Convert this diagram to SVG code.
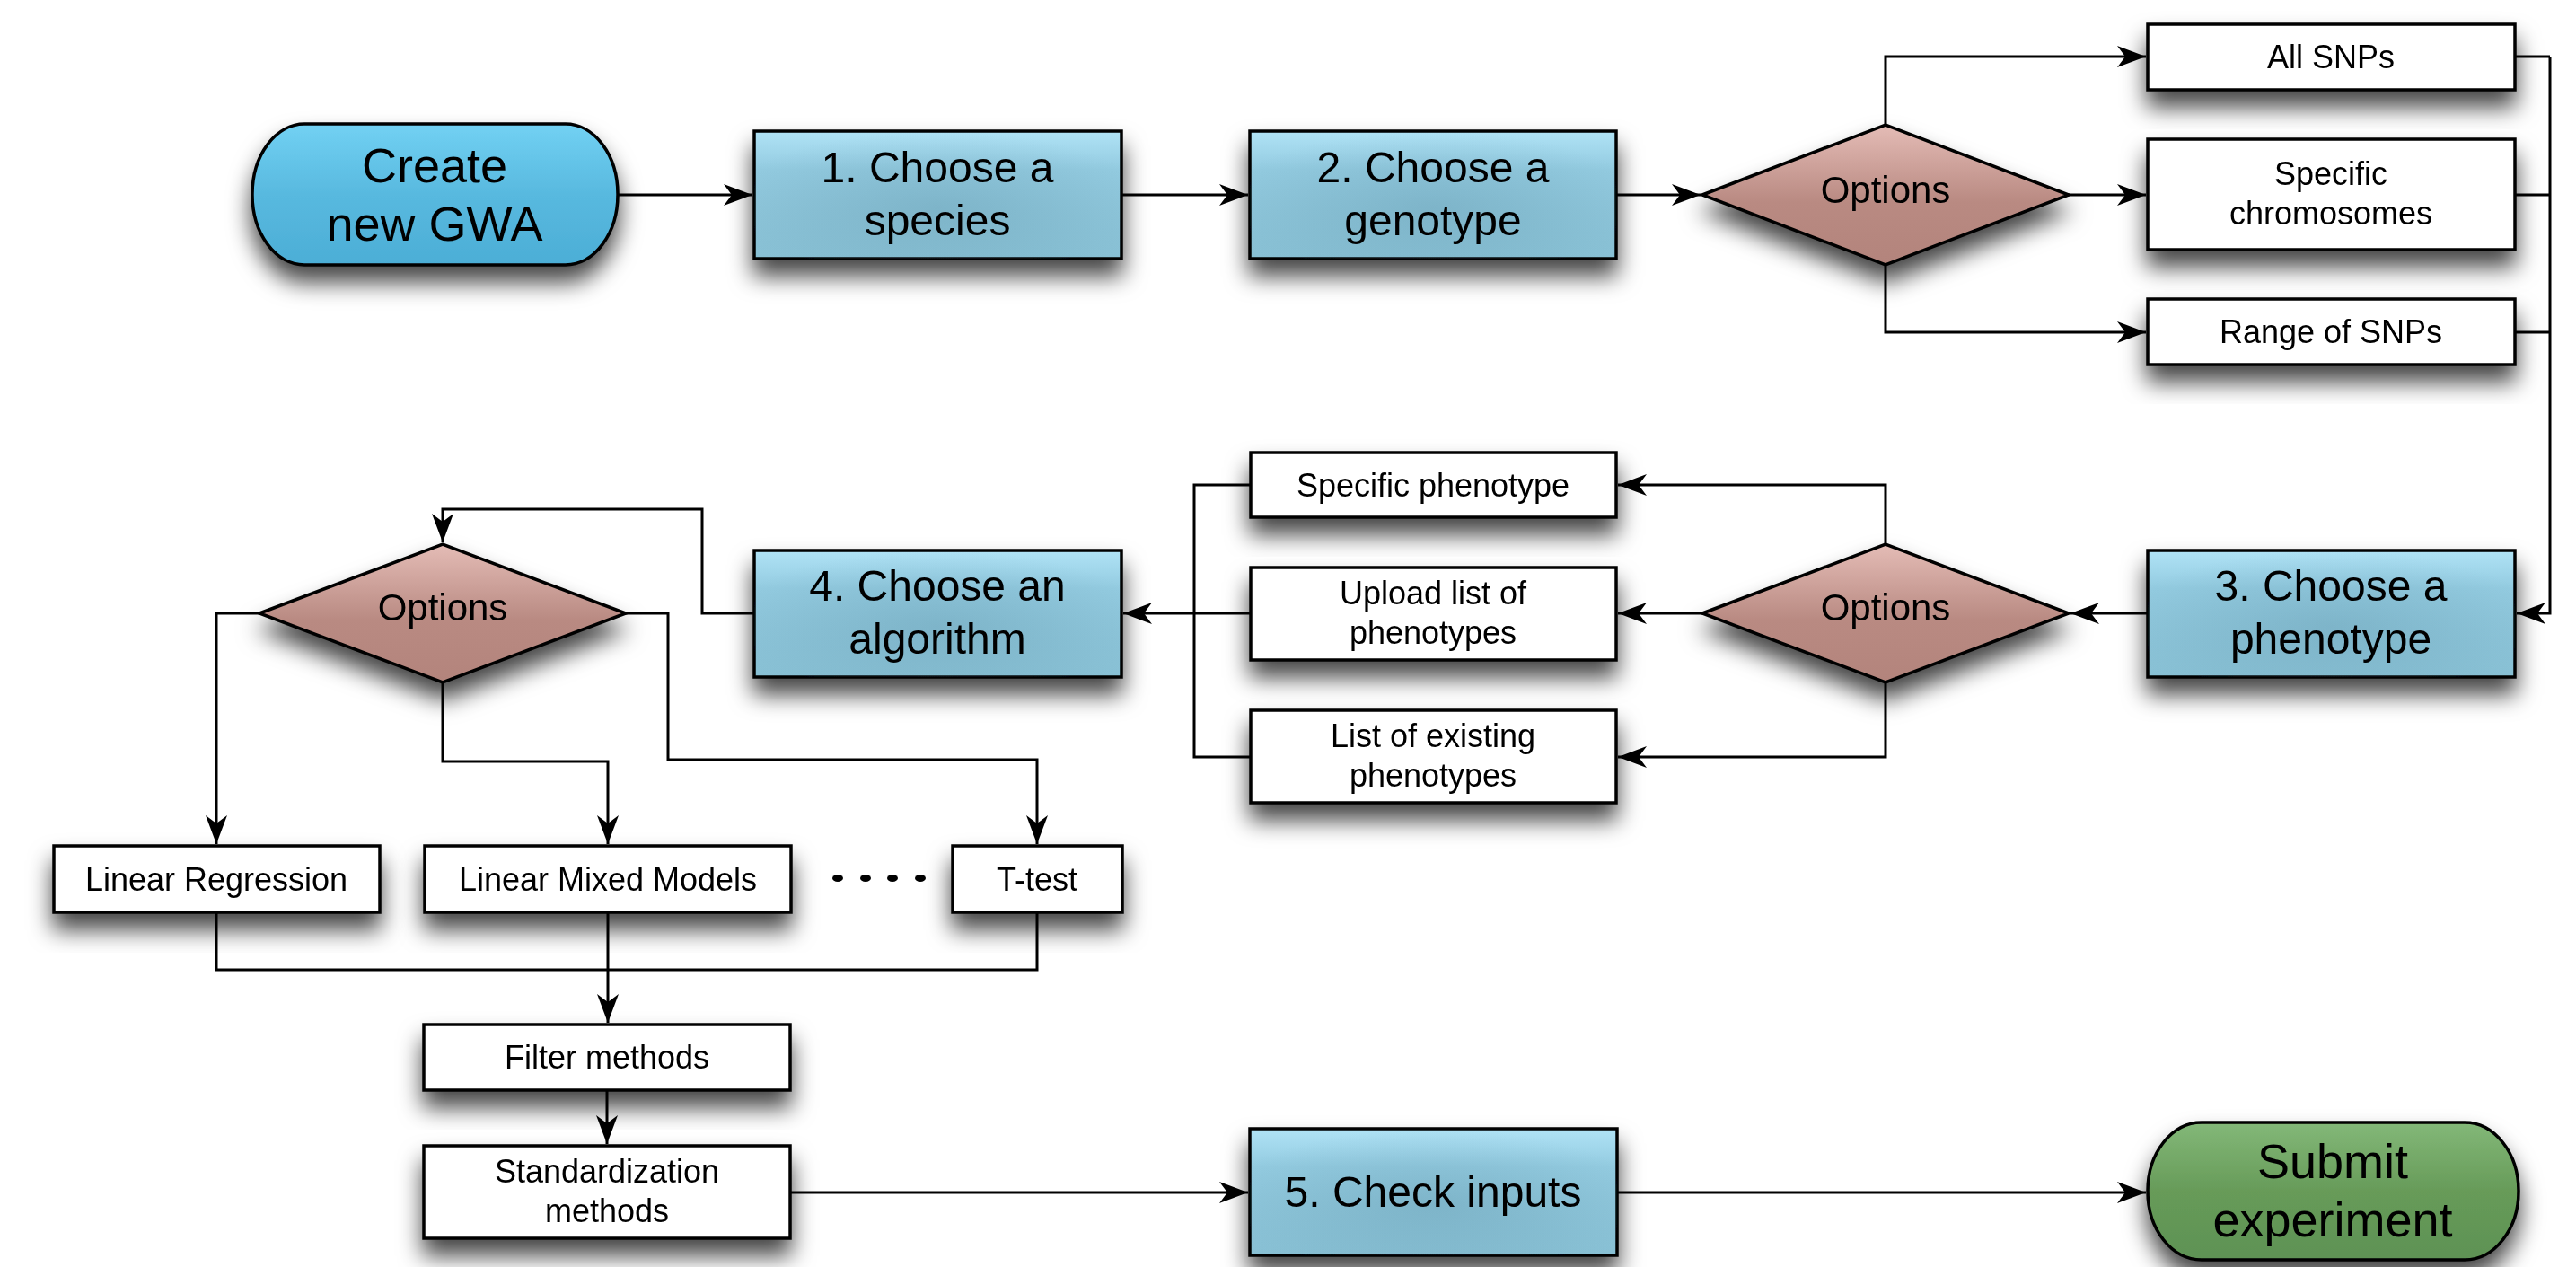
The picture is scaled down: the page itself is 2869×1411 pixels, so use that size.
<svg xmlns="http://www.w3.org/2000/svg" width="2869" height="1411" viewBox="0 0 2869 1411">
<defs>
  <filter id="shadow" x="-20%" y="-30%" width="140%" height="190%">
    <feDropShadow dx="0" dy="18" stdDeviation="13" flood-color="#000" flood-opacity="0.72"/>
  </filter>
  <linearGradient id="gBlue" x1="0" y1="0" x2="0" y2="1">
    <stop offset="0" stop-color="#b0e3f6"/>
    <stop offset="0.3" stop-color="#93cbe0"/>
    <stop offset="1" stop-color="#88c0d4"/>
  </linearGradient>
  <radialGradient id="gBlueShade" cx="0.5" cy="0.6" r="0.6">
    <stop offset="0" stop-color="#5f93a8" stop-opacity="0.35"/>
    <stop offset="1" stop-color="#5f93a8" stop-opacity="0"/>
  </radialGradient>
  <linearGradient id="gPill" x1="0" y1="0" x2="0" y2="1">
    <stop offset="0" stop-color="#72d1f3"/>
    <stop offset="0.5" stop-color="#58b9df"/>
    <stop offset="1" stop-color="#4caed6"/>
  </linearGradient>
  <linearGradient id="gDiamond" x1="0" y1="0" x2="0" y2="1">
    <stop offset="0" stop-color="#e4bcb6"/>
    <stop offset="0.55" stop-color="#b98a82"/>
    <stop offset="1" stop-color="#b3847c"/>
  </linearGradient>
  <linearGradient id="gGreen" x1="0" y1="0" x2="0" y2="1">
    <stop offset="0" stop-color="#83b878"/>
    <stop offset="0.5" stop-color="#679b59"/>
    <stop offset="1" stop-color="#5e9254"/>
  </linearGradient>
  <marker id="arrow" viewBox="-34 -14 36 28" refX="0" refY="0" markerWidth="36" markerHeight="28" markerUnits="userSpaceOnUse" orient="auto">
    <path d="M0,0 L-32,-12 L-23,0 L-32,12 Z" fill="#000"/>
  </marker>
  <style>
    .step { fill: url(#gBlue); stroke: #000; stroke-width: 3.5; }
    .shade { fill: url(#gBlueShade); stroke: none; }
    .opt { fill: url(#gDiamond); stroke: #000; stroke-width: 3.5; stroke-linejoin: miter; }
    .box { fill: #fff; stroke: #000; stroke-width: 3.5; }
    .pill { fill: url(#gPill); stroke: #000; stroke-width: 3.5; }
    .green { fill: url(#gGreen); stroke: #000; stroke-width: 3.5; }
    .node { filter: url(#shadow); }
    text { font-family: "Liberation Sans", Arial, sans-serif; fill: #000; text-anchor: middle; }
    .tBig { font-size: 54px; }
    .tStep { font-size: 48px; }
    .tOpt { font-size: 42px; }
    .tBox { font-size: 36px; }
    .conn { fill: none; stroke: #000; stroke-width: 3; }
    .arr { marker-end: url(#arrow); }
  </style>
</defs>
<rect width="2869" height="1411" fill="#fff"/>

<!-- nodes -->
<g id="create" class="node">
  <rect class="pill" x="281" y="138" width="407" height="157" rx="58" ry="78"/>
  <text class="tBig" x="484" y="203">Create</text>
  <text class="tBig" x="484" y="268">new GWA</text>
</g>
<g id="step1" class="node">
  <rect class="step" x="840" y="146" width="409" height="142"/>
  <rect class="shade" x="840" y="146" width="409" height="142"/>
  <text class="tStep" x="1044" y="203">1. Choose a</text>
  <text class="tStep" x="1044" y="262">species</text>
</g>
<g id="step2" class="node">
  <rect class="step" x="1392" y="146" width="408" height="142"/>
  <rect class="shade" x="1392" y="146" width="408" height="142"/>
  <text class="tStep" x="1596" y="203">2. Choose a</text>
  <text class="tStep" x="1596" y="262">genotype</text>
</g>
<g id="options1" class="node">
  <polygon class="opt" points="1896,217 2100,139 2304,217 2100,295"/>
  <text class="tOpt" x="2100" y="226">Options</text>
</g>
<g id="allsnps" class="node">
  <rect class="box" x="2392" y="27" width="409" height="73"/>
  <text class="tBox" x="2596" y="76">All SNPs</text>
</g>
<g id="chromosomes" class="node">
  <rect class="box" x="2392" y="155" width="409" height="123"/>
  <text class="tBox" x="2596" y="206">Specific</text>
  <text class="tBox" x="2596" y="250">chromosomes</text>
</g>
<g id="rangesnps" class="node">
  <rect class="box" x="2392" y="333" width="409" height="73"/>
  <text class="tBox" x="2596" y="382">Range of SNPs</text>
</g>
<g id="step3" class="node">
  <rect class="step" x="2392" y="613" width="409" height="141"/>
  <rect class="shade" x="2392" y="613" width="409" height="141"/>
  <text class="tStep" x="2596" y="669">3. Choose a</text>
  <text class="tStep" x="2596" y="728">phenotype</text>
</g>
<g id="options2" class="node">
  <polygon class="opt" points="1896,683 2100,606 2304,683 2100,760"/>
  <text class="tOpt" x="2100" y="691">Options</text>
</g>
<g id="specpheno" class="node">
  <rect class="box" x="1393" y="504" width="407" height="72"/>
  <text class="tBox" x="1596" y="553">Specific phenotype</text>
</g>
<g id="uploadpheno" class="node">
  <rect class="box" x="1393" y="632" width="407" height="103"/>
  <text class="tBox" x="1596" y="673">Upload list of</text>
  <text class="tBox" x="1596" y="717">phenotypes</text>
</g>
<g id="existpheno" class="node">
  <rect class="box" x="1393" y="791" width="407" height="103"/>
  <text class="tBox" x="1596" y="832">List of existing</text>
  <text class="tBox" x="1596" y="876">phenotypes</text>
</g>
<g id="step4" class="node">
  <rect class="step" x="840" y="613" width="409" height="141"/>
  <rect class="shade" x="840" y="613" width="409" height="141"/>
  <text class="tStep" x="1044" y="669">4. Choose an</text>
  <text class="tStep" x="1044" y="728">algorithm</text>
</g>
<g id="options3" class="node">
  <polygon class="opt" points="289,683 493,606 697,683 493,760"/>
  <text class="tOpt" x="493" y="691">Options</text>
</g>
<g id="linreg" class="node">
  <rect class="box" x="60" y="942" width="363" height="74"/>
  <text class="tBox" x="241" y="992">Linear Regression</text>
</g>
<g id="lmm" class="node">
  <rect class="box" x="473" y="942" width="408" height="74"/>
  <text class="tBox" x="677" y="992">Linear Mixed Models</text>
</g>
<g id="ttest" class="node">
  <rect class="box" x="1061" y="942" width="189" height="74"/>
  <text class="tBox" x="1155" y="992">T-test</text>
</g>
<g id="filter" class="node">
  <rect class="box" x="472" y="1141" width="408" height="73"/>
  <text class="tBox" x="676" y="1190">Filter methods</text>
</g>
<g id="standard" class="node">
  <rect class="box" x="472" y="1276" width="408" height="103"/>
  <text class="tBox" x="676" y="1317">Standardization</text>
  <text class="tBox" x="676" y="1361">methods</text>
</g>
<g id="step5" class="node">
  <rect class="step" x="1392" y="1257" width="409" height="141"/>
  <rect class="shade" x="1392" y="1257" width="409" height="141"/>
  <text class="tStep" x="1596" y="1344">5. Check inputs</text>
</g>
<g id="submit" class="node">
  <rect class="green" x="2392" y="1250" width="413" height="153" rx="60" ry="76"/>
  <text class="tBig" x="2598" y="1312">Submit</text>
  <text class="tBig" x="2598" y="1377">experiment</text>
</g>

<!-- connectors -->
<g id="connectors">
  <path class="conn arr" d="M688,217 L838,217"/>
  <path class="conn arr" d="M1249,217 L1390,217"/>
  <path class="conn arr" d="M1800,217 L1894,217"/>
  <path class="conn arr" d="M2100,139 L2100,63 L2390,63"/>
  <path class="conn arr" d="M2304,217 L2390,217"/>
  <path class="conn arr" d="M2100,295 L2100,370 L2390,370"/>
  <path class="conn" d="M2801,63 L2840,63 M2801,217 L2840,217 M2801,370 L2840,370"/>
  <path class="conn arr" d="M2840,63 L2840,683 L2803,683"/>
  <path class="conn arr" d="M2392,683 L2306,683"/>
  <path class="conn arr" d="M2100,606 L2100,540 L1802,540"/>
  <path class="conn arr" d="M1896,683 L1802,683"/>
  <path class="conn arr" d="M2100,760 L2100,843 L1802,843"/>
  <path class="conn" d="M1393,540 L1330,540 L1330,843 L1393,843"/>
  <path class="conn arr" d="M1393,683 L1251,683"/>
  <path class="conn arr" d="M840,683 L782,683 L782,567 L493,567 L493,604"/>
  <path class="conn arr" d="M289,683 L241,683 L241,940"/>
  <path class="conn arr" d="M493,760 L493,848 L677,848 L677,940"/>
  <path class="conn arr" d="M697,683 L744,683 L744,846 L1155,846 L1155,940"/>
  <path class="conn" d="M241,1016 L241,1080 L1155,1080 L1155,1016"/>
  <path class="conn arr" d="M677,1016 L677,1139"/>
  <path class="conn arr" d="M676,1214 L676,1274"/>
  <path class="conn arr" d="M880,1328 L1390,1328"/>
  <path class="conn arr" d="M1801,1328 L2390,1328"/>
  <g fill="#000">
    <ellipse cx="933" cy="978" rx="6" ry="4"/>
    <ellipse cx="964" cy="978" rx="6" ry="4"/>
    <ellipse cx="994" cy="978" rx="6" ry="4"/>
    <ellipse cx="1025" cy="978" rx="6" ry="4"/>
  </g>
</g>
</svg>
